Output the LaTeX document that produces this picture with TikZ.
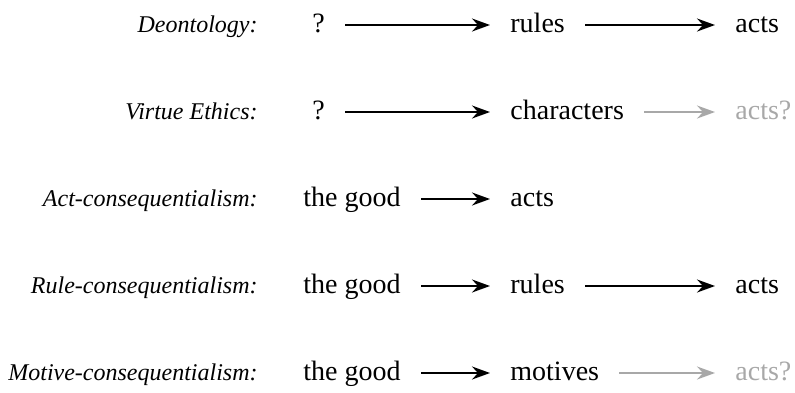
\documentclass[tikz,border=0pt]{standalone}
\usepackage{fontspec}
\setmainfont{Liberation Serif}
\usetikzlibrary{arrows.meta}
\definecolor{faint}{gray}{0.66}

\begin{document}
\begin{tikzpicture}[
 x=0.5pt,y=-0.5pt,
 school/.style={font=\fontsize{12}{14}\selectfont\itshape,inner sep=0pt,anchor=base east},
 term/.style={font=\fontsize{14}{16}\selectfont,inner ysep=0pt,inner xsep=10pt,text height=9pt,text depth=2pt,anchor=base west},
 guess/.style={term,text=faint},
 leads/.style={-{Stealth[length=9pt,width=6.5pt,inset=3pt]},line width=1pt},
 maybe/.style={leads,draw=faint,fill=faint}
]
\useasboundingbox (0,0) rectangle (795,392);
\node[school] (deon) at (258,32) {Deontology:};
\node[school] (virtue) at (258,119) {Virtue Ethics:};
\node[school] (actc) at (258,206) {Act-consequentialism:};
\node[school] (rulec) at (258,293) {Rule-consequentialism:};
\node[school] (motc) at (258,380) {Motive-consequentialism:};
\node[term] (deonq) at (292,32) {?};
\node[term] (deonrules) at (490,32) {rules};
\node[term] (deonacts) at (715,32) {acts};
\node[term] (virtueq) at (292,119) {?};
\node[term] (virtuechar) at (490,119) {characters};
\node[guess] (virtueacts) at (715,119) {acts?};
\node[term] (actgood) at (283,206) {the good};
\node[term] (actacts) at (490,206) {acts};
\node[term] (rulegood) at (283,293) {the good};
\node[term] (rulerules) at (490,293) {rules};
\node[term] (ruleacts) at (715,293) {acts};
\node[term] (motgood) at (283,380) {the good};
\node[term] (motmotives) at (490,380) {motives};
\node[guess] (motacts) at (715,380) {acts?};
\draw[leads] (deonq.east) -- (deonrules.west);
\draw[leads] (deonrules.east) -- (deonacts.west);
\draw[leads] (virtueq.east) -- (virtuechar.west);
\draw[maybe] (virtuechar.east) -- (virtueacts.west);
\draw[leads] (actgood.east) -- (actacts.west);
\draw[leads] (rulegood.east) -- (rulerules.west);
\draw[leads] (rulerules.east) -- (ruleacts.west);
\draw[leads] (motgood.east) -- (motmotives.west);
\draw[maybe] (motmotives.east) -- (motacts.west);
\end{tikzpicture}
\end{document}
